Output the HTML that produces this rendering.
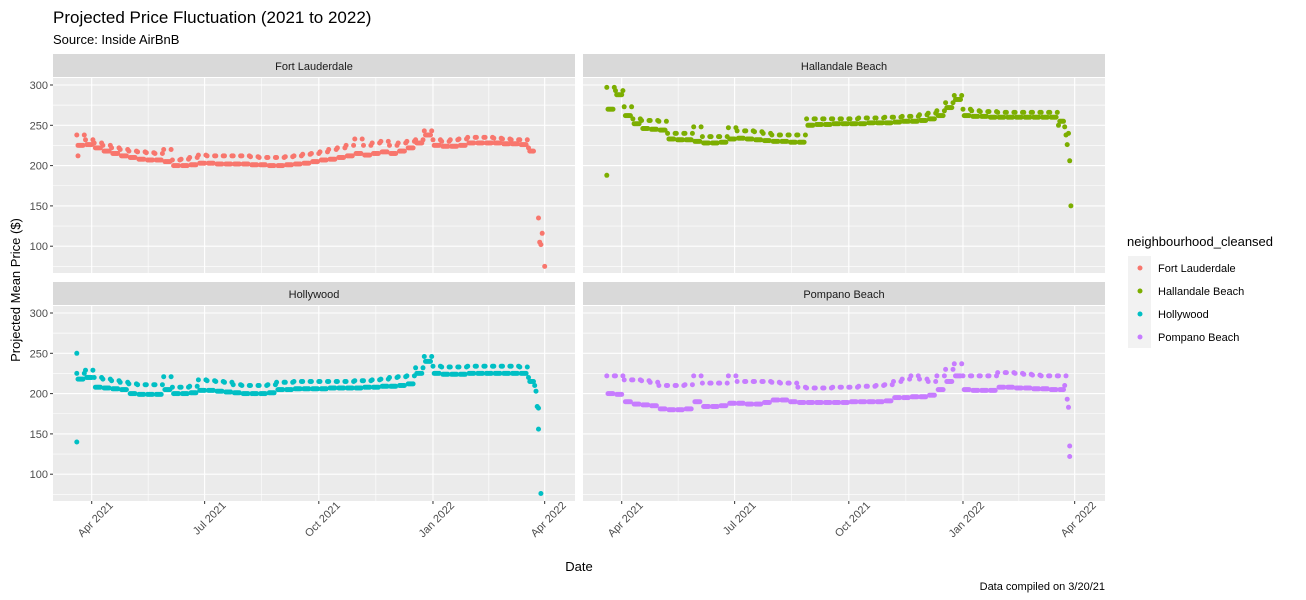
<!DOCTYPE html>
<html><head><meta charset="utf-8"><style>
html,body{margin:0;padding:0;background:#fff;}
svg{display:block;font-family:"Liberation Sans",Arial,sans-serif;}
</style></head><body>
<svg id="chart" width="1306" height="600" viewBox="0 0 1306 600" xmlns="http://www.w3.org/2000/svg">
<text x="53" y="23" font-size="17" fill="#000">Projected Price Fluctuation (2021 to 2022)</text>
<text x="53" y="44" font-size="13" fill="#000">Source: Inside AirBnB</text>
<text transform="translate(20,290) rotate(-90)" text-anchor="middle" font-size="13" fill="#000">Projected Mean Price ($)</text>
<text x="579" y="571" text-anchor="middle" font-size="13" fill="#000">Date</text>
<text x="1105" y="590" text-anchor="end" font-size="11" fill="#000">Data compiled on 3/20/21</text>
<g>
<text x="1127" y="246" font-size="13" fill="#000">neighbourhood_cleansed</text>
<rect x="1128" y="256" width="23" height="92" fill="#F2F2F2"/>
<g><circle cx="1140" cy="268" r="2.5" fill="#F8766D"/><text x="1158" y="272" font-size="11">Fort Lauderdale</text></g>
<g><circle cx="1140" cy="291" r="2.5" fill="#7CAE00"/><text x="1158" y="295" font-size="11">Hallandale Beach</text></g>
<g><circle cx="1140" cy="314" r="2.5" fill="#00BFC4"/><text x="1158" y="318" font-size="11">Hollywood</text></g>
<g><circle cx="1140" cy="337" r="2.5" fill="#C77CFF"/><text x="1158" y="341" font-size="11">Pompano Beach</text></g>
</g>
</svg>
<script>
// Weekly weekday (lo) and weekend (hi) price levels, weeks starting Sat 2021-03-20
const flLo=[225,226,222,218,215,212,210,208,207,207,205,200,200,201,203,203,202,202,202,202,201,201,200,200,201,202,203,205,207,208,210,212,215,213,215,217,215,218,222,228,238,225,224,224,225,228,228,228,228,227,227,226,218];
const flHi=[238,232,228,225,222,220,218,217,216,215,220,207,208,210,213,212,212,212,212,212,211,210,210,210,211,212,214,215,217,220,222,225,233,225,228,230,225,228,230,232,243,232,230,232,233,235,235,235,234,233,232,232,222];
const flExtra=[[1,212],[372,135],[373,105],[374,102],[375,116],[377,75]];
const hbLo=[270,288,262,252,246,245,244,233,232,232,230,228,228,229,233,234,233,232,231,230,230,229,229,250,251,251,252,252,252,252,253,253,253,254,255,255,256,258,262,272,282,262,261,261,260,260,260,260,260,260,260,260,255];
const hbHi=[297,293,273,258,256,256,255,240,240,240,248,236,236,236,247,243,243,242,240,238,238,238,238,258,258,258,258,258,258,259,259,259,260,260,261,261,263,265,268,278,287,270,268,267,267,266,266,266,266,266,266,266,250];
const hbExtra=[[0,188],[369,248],[370,238],[371,226],[372,240],[373,206],[374,150]];
const hwLo=[218,220,208,207,206,205,200,199,199,199,205,200,200,201,204,204,203,202,201,200,200,200,201,205,205,206,206,206,206,207,207,207,207,208,208,209,209,210,212,225,240,225,224,224,224,225,225,225,225,225,225,225,215];
const hwHi=[225,229,220,218,216,214,212,211,211,211,221,208,208,209,217,216,215,214,211,210,210,210,211,214,214,215,215,215,215,215,215,215,216,216,217,218,220,221,222,232,246,234,233,233,233,234,234,234,234,234,234,233,220];
const hwExtra=[[0,250],[0,140],[369,210],[370,203],[371,184],[372,182],[372,156],[374,76]];
const pbLo=[200,199,190,187,186,185,181,180,180,181,190,184,184,185,188,188,187,187,189,192,192,190,189,189,189,189,189,189,190,190,190,190,191,195,195,196,196,198,205,215,222,205,204,204,204,208,208,207,207,206,206,205,205];
const pbHi=[222,222,217,217,216,214,210,210,210,211,222,213,213,213,222,215,215,215,215,214,213,213,208,207,207,207,208,208,208,209,209,210,211,215,218,222,218,215,222,230,237,222,222,222,222,226,226,225,224,223,222,222,222];
const pbExtra=[[369,210],[370,222],[371,193],[372,183],[373,135],[373,122]];
const panelNames=["Fort Lauderdale","Hallandale Beach","Hollywood","Pompano Beach"];
const yTicks=[100,150,200,250,300];
const xTickDays=[12,103,195,287,377];
const xTickLabels=["Apr 2021","Jul 2021","Oct 2021","Jan 2022","Apr 2022"];

const NS="http://www.w3.org/2000/svg";
const svg=document.getElementById("chart");
const series=[
 {lo:flLo,hi:flHi,ex:flExtra,c:"#F8766D",px:53,py:78},
 {lo:hbLo,hi:hbHi,ex:hbExtra,c:"#7CAE00",px:583,py:78},
 {lo:hwLo,hi:hwHi,ex:hwExtra,c:"#00BFC4",px:53,py:306},
 {lo:pbLo,hi:pbHi,ex:pbExtra,c:"#C77CFF",px:583,py:306}];
const PW=522,PH=195;
function mk(tag,attrs,parent){const e=document.createElementNS(NS,tag);for(const k in attrs)e.setAttribute(k,attrs[k]);(parent||svg).appendChild(e);return e;}
function xs(px,d){return px+38.7+(d-12)*1.241;}
function ys(py,v){return py+7+(300-v)*0.806;}

series.forEach((s,i)=>{
 const g=mk("g",{});
 
 
 const strip=mk("rect",{x:s.px,y:s.py-24,width:PW,height:23,fill:"#D9D9D9"},g);
 
 
 const st=mk("text",{x:s.px+PW/2,y:s.py-8,"text-anchor":"middle","font-size":"11",fill:"#1A1A1A"},g);
 st.textContent=panelNames[i];
 
 
 const bg=mk("rect",{x:s.px,y:s.py,width:PW,height:PH,fill:"#EBEBEB"},g);
 
 
 for(let k=0;k<yTicks.length;k++){const v=yTicks[k]-25;const y=ys(s.py,v);
  mk("line",{x1:s.px,x2:s.px+PW,y1:y,y2:y,stroke:"#fff","stroke-width":"0.6"},g);}
 mk("line",{x1:s.px,x2:s.px+PW,y1:ys(s.py,275),y2:ys(s.py,275),stroke:"#fff","stroke-width":"0.6"},g);
 for(let k=0;k<xTickDays.length-1;k++){const x=xs(s.px,(xTickDays[k]+xTickDays[k+1])/2);
  mk("line",{x1:x,x2:x,y1:s.py,y2:s.py+PH,stroke:"#fff","stroke-width":"0.6"},g);}
 yTicks.forEach(v=>{const y=ys(s.py,v);
  mk("line",{x1:s.px,x2:s.px+PW,y1:y,y2:y,stroke:"#fff","stroke-width":"1.1"},g);});
 xTickDays.forEach(d=>{const x=xs(s.px,d);
  mk("line",{x1:x,x2:x,y1:s.py,y2:s.py+PH,stroke:"#fff","stroke-width":"1.1"},g);});
 if(s.px<100){
  yTicks.forEach(v=>{const y=ys(s.py,v);
   mk("line",{x1:s.px-3,x2:s.px,y1:y,y2:y,stroke:"#333"},g);
   const t=mk("text",{x:s.px-5,y:y+4,"text-anchor":"end","font-size":"11",fill:"#4D4D4D"},g);
   t.textContent=v;
   
   });
 }
 if(s.py>200){
  xTickDays.forEach((d,k)=>{const x=xs(s.px,d);
   mk("line",{x1:x,x2:x,y1:s.py+PH,y2:s.py+PH+3,stroke:"#333"},g);
   const t=mk("text",{transform:`translate(${x+22},${s.py+PH+5}) rotate(-45)`,"text-anchor":"end","font-size":"11",fill:"#4D4D4D"},g);
   t.textContent=xTickLabels[k];
   
   });
 }
 const pts=mk("g",{fill:s.c},g);
 
 
 for(let d=0;d<=368;d++){
  const w=Math.floor(d/7);const wk=(d%7===6||d%7===0);
  const v=wk?s.hi[w]:s.lo[w];
  const c=mk("circle",{cx:xs(s.px,d).toFixed(1),cy:ys(s.py,v).toFixed(1),r:"2.5"},pts);
  
  
 }
 s.ex.forEach(p=>{
  const c=mk("circle",{cx:xs(s.px,p[0]).toFixed(1),cy:ys(s.py,p[1]).toFixed(1),r:"2.5"},pts);
  
  
 });
});
</script>
</body></html>
